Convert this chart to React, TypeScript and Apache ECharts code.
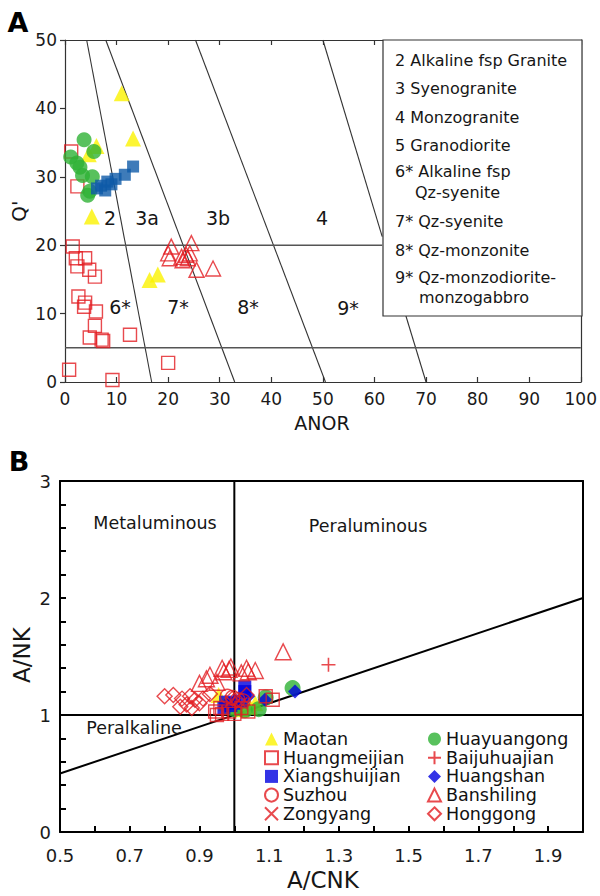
import React, { useEffect, useRef } from "react";
import * as echarts from "echarts";

const FONT = "DejaVu Sans";

// ---------- Panel A: Q'–ANOR classification (ANOR, Q') ----------
const aMaotan = [[11.0, 42.2], [13.2, 35.6], [6.1, 34.5], [4.6, 33.3], [5.2, 24.2], [16.4, 14.9], [18.0, 15.7]];
const aHuayuangong = [[3.7, 35.4], [5.6, 33.7], [1.1, 32.9], [2.3, 32.0], [2.9, 31.4], [3.4, 30.2], [5.3, 30.0], [4.8, 27.9], [4.4, 27.3]];
const aXiangshuijian = [[13.2, 31.5], [11.6, 30.3], [9.8, 29.7], [8.2, 29.3], [7.0, 28.7], [6.2, 28.3], [7.8, 28.0], [9.0, 28.9]];
const aHuangmeijian = [
  [1.5, 19.8], [2.1, 18.1], [2.4, 16.9], [3.9, 18.1], [4.7, 16.4], [5.8, 15.4], [2.6, 12.5], [3.9, 11.6],
  [3.7, 11.0], [6.0, 10.3], [5.8, 8.2], [4.8, 6.5], [7.1, 6.2], [7.4, 6.0], [12.6, 6.9], [0.8, 1.8],
  [9.2, 0.3], [20.0, 2.8], [1.2, 33.7], [2.4, 28.6],
];
const aBanshiling = [
  [20.6, 19.8], [24.5, 20.3], [20.0, 18.8], [20.3, 18.1], [22.6, 18.3], [23.5, 18.6], [24.2, 18.8],
  [23.8, 18.1], [22.8, 17.8], [25.5, 16.4], [28.7, 16.6],
];
// field boundaries; line 4 stops at the edges of the key box
const aSlantBounds = [
  [[4.2, 50], [16.8, 0]],
  [[7.9, 50], [32.9, 0]],
  [[25.3, 50], [50.5, 0]],
  [[50, 50], [61.5, 21.25]],
  [[66.1, 9.65], [70, 0]],
];
const aLevelBounds = [
  [[0, 20], [61.5, 20]],
  [[0, 5], [100, 5]],
];
const aFieldLabels = [
  { t: "2", x: 110, y: 218 }, { t: "3a", x: 147, y: 218 }, { t: "3b", x: 218, y: 218 }, { t: "4", x: 322, y: 218 },
  { t: "6*", x: 120, y: 307 }, { t: "7*", x: 178, y: 307 }, { t: "8*", x: 248, y: 307 }, { t: "9*", x: 348, y: 308 },
];
const aKeyLines = [
  { t: "2 Alkaline fsp Granite", x: 395, y: 60 },
  { t: "3 Syenogranite", x: 395, y: 88 },
  { t: "4 Monzogranite", x: 395, y: 117 },
  { t: "5 Granodiorite", x: 395, y: 145 },
  { t: "6* Alkaline fsp", x: 395, y: 171 },
  { t: "Qz-syenite", x: 415, y: 192 },
  { t: "7* Qz-syenite", x: 395, y: 221 },
  { t: "8* Qz-monzonite", x: 395, y: 250 },
  { t: "9* Qz-monzodiorite-", x: 395, y: 277 },
  { t: "monzogabbro", x: 419, y: 297 },
];

// ---------- Panel B: A/NK vs A/CNK ----------
const bMaotan = [[0.955, 1.17], [0.975, 1.1], [0.99, 1.07], [1.02, 1.05], [1.045, 1.07], [1.06, 1.1]];
const bHuangmeijian = [[0.945, 1.03], [0.95, 1.0], [0.965, 1.01], [0.985, 1.03], [1.0, 1.01], [1.02, 1.06], [1.09, 1.16], [1.11, 1.13], [0.96, 1.06], [1.04, 1.03]];
const bXiangshuijian = [[1.03, 1.24], [1.03, 1.2], [0.975, 1.11], [0.99, 1.08], [0.97, 1.06], [1.02, 1.12], [1.0, 1.1]];
const bSuzhou = [[0.995, 1.15], [1.01, 1.13], [0.98, 1.16], [1.025, 1.12]];
const bZongyang = [[0.99, 1.12], [1.02, 1.1]];
const bHuayuangong = [[1.167, 1.23], [1.09, 1.15], [1.0, 1.05], [1.07, 1.05], [1.03, 1.04]];
const bBaijuhuajian = [[1.27, 1.43]];
const bHuangshan = [[1.174, 1.2], [1.088, 1.13], [1.04, 1.16], [1.0, 1.12]];
const bBanshiling = [
  [1.14, 1.54], [0.92, 1.31], [0.93, 1.34], [0.965, 1.4], [0.985, 1.39], [0.97, 1.37], [1.035, 1.4],
  [1.06, 1.38], [1.02, 1.36], [1.04, 1.37], [0.9, 1.27], [0.99, 1.41], [0.95, 1.28],
];
const bHonggong = [
  [0.825, 1.17], [0.85, 1.14], [0.873, 1.16], [0.887, 1.13], [0.863, 1.09], [0.9, 1.1], [0.845, 1.07],
  [0.878, 1.06], [0.91, 1.14], [0.93, 1.18], [0.8, 1.16], [1.035, 1.17], [0.995, 1.14],
];
const bBounds = [
  [[1, 0], [1, 3]],
  [[0.5, 1], [2, 1]],
  [[0.5, 0.5], [2, 2]],
];
const bLegendLeft = ["Maotan", "Huangmeijian", "Xiangshuijian", "Suzhou", "Zongyang"];
const bLegendRight = ["Huayuangong", "Baijuhuajian", "Huangshan", "Banshiling", "Honggong"];

const YELLOW = "#fbf200";
const GREEN = "#2eb135";
const RED = "#e21d22";
const BLUE_A = "#0e5aa7";
const BLUE_B = "#0000e0";
const CLEAR = "rgba(0,0,0,0)";

const CROSS = "path://M0,5L10,5M5,0L5,10";
const XMARK = "path://M0,0L10,10M10,0L0,10";

function scatter(name: string, data: number[][], axis: number, symbol: string, size: number, itemStyle: any) {
  return {
    name,
    type: "scatter",
    xAxisIndex: axis,
    yAxisIndex: axis,
    data,
    symbol,
    symbolSize: size,
    itemStyle,
    z: 3,
  };
}

function lines(segs: number[][][], axis: number, color: string, width: number) {
  return segs.map((s) => ({
    type: "line",
    xAxisIndex: axis,
    yAxisIndex: axis,
    data: s,
    symbol: "none",
    silent: true,
    z: 1,
    lineStyle: { color, width },
  }));
}

function label(t: string, x: number, y: number, size: number, extra: any = {}) {
  return {
    type: "text",
    x,
    y,
    z: 20,
    ...extra,
    style: {
      text: t,
      fontSize: size,
      fontFamily: FONT,
      fill: "#161616",
      align: "center",
      textAlign: "center",
      verticalAlign: "middle",
      textVerticalAlign: "middle",
      ...(extra.style || {}),
    },
  };
}

function leftLabel(t: string, x: number, y: number, size: number) {
  return label(t, x, y, size, { style: { align: "left", textAlign: "left" } });
}

export default function App() {
  const ref = useRef<HTMLDivElement>(null);

  useEffect(() => {
    if (!ref.current) return;
    const chart = echarts.init(ref.current, undefined, { renderer: "svg" });

    const hollowRed = { color: CLEAR, borderColor: RED, borderWidth: 1.4 };
    const lineRed = { color: CLEAR, borderColor: RED, borderWidth: 1.6 };

    const aLine = { color: "#333", width: 1.2 };
    const bLine = { color: "#000", width: 2 };

    const legendBase = {
      orient: "vertical",
      itemWidth: 13,
      itemHeight: 13,
      itemGap: 0.7,
      padding: 0,
      selectedMode: false,
      top: 730,
      textStyle: { fontSize: 17.5, fontFamily: FONT, color: "#111", lineHeight: 18 },
    };

    const option: any = {
      animation: false,
      textStyle: { fontFamily: FONT },
      grid: [
        { left: 65, top: 40, width: 517, height: 342 },
        { left: 60, top: 481, width: 523, height: 351 },
      ],
      xAxis: [
        {
          gridIndex: 0, type: "value", min: 0, max: 100, interval: 10,
          axisLine: { show: true, onZero: false, lineStyle: aLine },
          axisTick: { show: true, inside: true, length: 5, lineStyle: aLine },
          axisLabel: { fontSize: 17, fontFamily: FONT, color: "#1a1a1a", margin: 8 },
          splitLine: { show: false },
        },
        {
          gridIndex: 0, type: "value", position: "top", min: 0, max: 100, interval: 10,
          axisLine: { show: true, onZero: false, lineStyle: aLine },
          axisTick: { show: true, inside: true, length: 5, lineStyle: aLine },
          axisLabel: { show: false },
          splitLine: { show: false },
        },
        {
          gridIndex: 1, type: "value", min: 0.5, max: 2.0, interval: 0.1,
          axisLine: { show: true, onZero: false, lineStyle: bLine },
          axisTick: { show: true, inside: true, length: 6, lineStyle: bLine },
          axisLabel: {
            fontSize: 18, fontFamily: FONT, color: "#1a1a1a", margin: 14,
            formatter: (v: number) => (Math.round(v * 10) % 2 === 1 ? v.toFixed(1) : ""),
          },
          splitLine: { show: false },
        },
        {
          gridIndex: 1, type: "value", position: "top", min: 0.5, max: 2.0,
          axisLine: { show: true, onZero: false, lineStyle: bLine },
          axisTick: { show: false },
          axisLabel: { show: false },
          splitLine: { show: false },
        },
      ],
      yAxis: [
        {
          gridIndex: 0, type: "value", min: 0, max: 50, interval: 10,
          axisLine: { show: true, onZero: false, lineStyle: aLine },
          axisTick: { show: true, inside: false, length: 5, lineStyle: aLine },
          axisLabel: { fontSize: 17, fontFamily: FONT, color: "#1a1a1a", margin: 8 },
          splitLine: { show: false },
        },
        {
          gridIndex: 0, type: "value", position: "right", min: 0, max: 50,
          axisLine: { show: true, onZero: false, lineStyle: aLine },
          axisTick: { show: false },
          axisLabel: { show: false },
          splitLine: { show: false },
        },
        {
          gridIndex: 1, type: "value", min: 0, max: 3, interval: 0.2,
          axisLine: { show: true, onZero: false, lineStyle: bLine },
          axisTick: { show: true, inside: true, length: 6, lineStyle: bLine },
          axisLabel: {
            fontSize: 18, fontFamily: FONT, color: "#1a1a1a", margin: 9,
            formatter: (v: number) => (Math.abs(v - Math.round(v)) < 1e-6 ? String(Math.round(v)) : ""),
          },
          splitLine: { show: false },
        },
        {
          gridIndex: 1, type: "value", position: "right", min: 0, max: 3,
          axisLine: { show: true, onZero: false, lineStyle: bLine },
          axisTick: { show: false },
          axisLabel: { show: false },
          splitLine: { show: false },
        },
      ],
      legend: [
        { ...legendBase, left: 264, data: bLegendLeft },
        { ...legendBase, left: 427, data: bLegendRight },
      ],
      series: [
        // Panel B
        ...lines(bBounds, 2, "#000", 2),
        scatter("Maotan", bMaotan, 2, "triangle", 16, { color: YELLOW }),
        scatter("Huayuangong", bHuayuangong, 2, "circle", 16, { color: GREEN }),
        scatter("Xiangshuijian", bXiangshuijian, 2, "rect", 13, { color: BLUE_B }),
        scatter("Huangshan", bHuangshan, 2, "diamond", 14, { color: BLUE_B }),
        scatter("Huangmeijian", bHuangmeijian, 2, "rect", 13, hollowRed),
        scatter("Suzhou", bSuzhou, 2, "circle", 14, hollowRed),
        scatter("Zongyang", bZongyang, 2, XMARK, 12, lineRed),
        scatter("Baijuhuajian", bBaijuhuajian, 2, CROSS, 14, lineRed),
        scatter("Banshiling", bBanshiling, 2, "triangle", 16, hollowRed),
        scatter("Honggong", bHonggong, 2, "diamond", 15, hollowRed),
        // Panel A
        ...lines(aSlantBounds, 0, "#333", 1.1),
        ...lines(aLevelBounds, 0, "#555", 1.4),
        scatter("Huangmeijian Q'-ANOR", aHuangmeijian, 0, "rect", 13, hollowRed),
        scatter("Banshiling Q'-ANOR", aBanshiling, 0, "triangle", 15, hollowRed),
        scatter("Maotan Q'-ANOR", aMaotan, 0, "triangle", 16, { color: YELLOW }),
        scatter("Huayuangong Q'-ANOR", aHuayuangong, 0, "circle", 15, { color: GREEN }),
        scatter("Xiangshuijian Q'-ANOR", aXiangshuijian, 0, "rect", 12, { color: BLUE_A }),
      ],
      graphic: [
        {
          type: "rect", z: 15,
          shape: { x: 383, y: 40, width: 199, height: 276 },
          style: { fill: "#fff", stroke: "#333", lineWidth: 1.2 },
        },
        ...aKeyLines.map((k) => leftLabel(k.t, k.x, k.y, 16)),
        ...aFieldLabels.map((f) => label(f.t, f.x, f.y, 19)),
        label("A", 18, 22, 27, { style: { fontWeight: "bold", fill: "#000" } }),
        label("B", 19, 461, 27, { style: { fontWeight: "bold", fill: "#000" } }),
        label("ANOR", 322, 423, 19),
        label("Q'", 19, 211, 20, { rotation: Math.PI / 2 }),
        label("Metaluminous", 155, 523, 17.5),
        label("Peraluminous", 368, 526, 17.5),
        label("Peralkaline", 134, 728, 17.5),
        label("A/NK", 22, 655, 23, { rotation: Math.PI / 2 }),
        label("A/CNK", 323, 880, 23),
      ],
    };

    chart.setOption(option);
    return () => chart.dispose();
  }, []);

  return <div ref={ref} style={{ position: "absolute", left: 0, top: 0, width: 600, height: 896 }} />;
}
